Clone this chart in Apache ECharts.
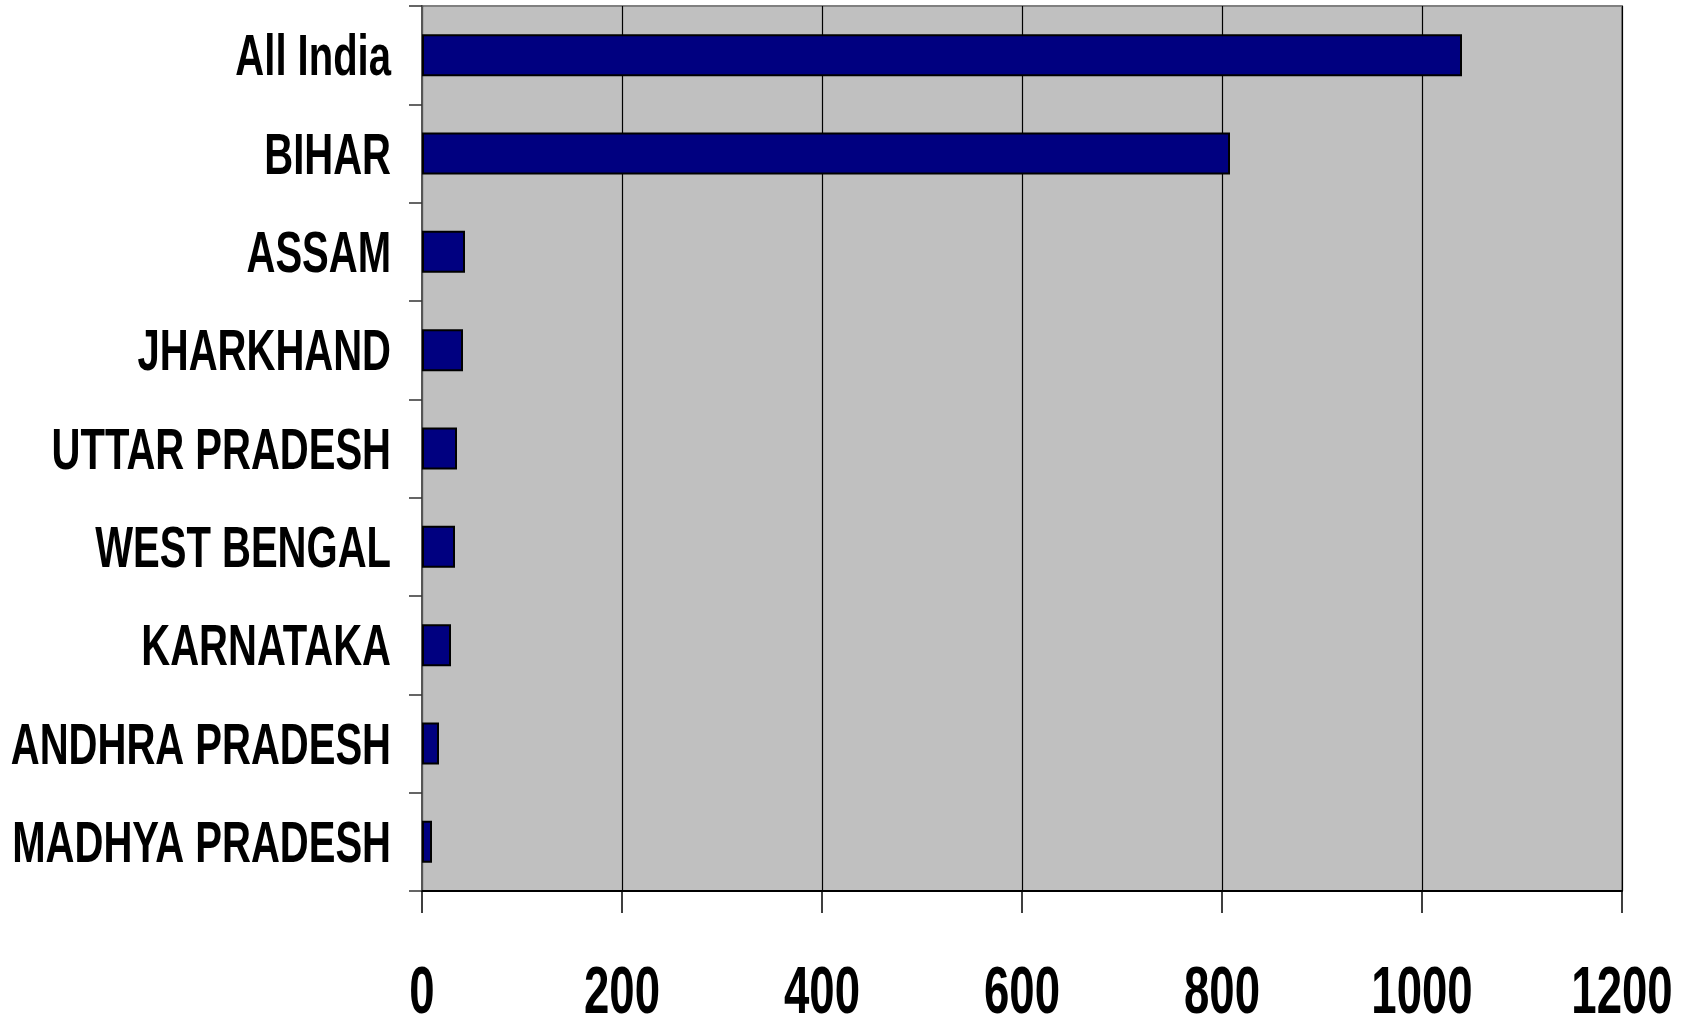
<!DOCTYPE html>
<html>
<head>
<meta charset="utf-8">
<script src="https://cdn.jsdelivr.net/npm/echarts@6/dist/echarts.min.js"></script>
<style>
html,body{margin:0;padding:0;background:#fff;}
#chart{width:1696px;height:1024px;}
</style>
</head>
<body>
<div id="chart"></div>
<script>
const categories = ["All India","BIHAR","ASSAM","JHARKHAND","UTTAR PRADESH","WEST BENGAL","KARNATAKA","ANDHRA PRADESH","MADHYA PRADESH"];
const values = [1040, 808, 43, 41, 35, 33, 29, 17, 10];
const xTicks = [0, 200, 400, 600, 800, 1000, 1200];

const FONT = '"Liberation Sans", Arial, sans-serif';
const NARROW = 0.69; // condensed look of the original labels
const chart = echarts.init(document.getElementById('chart'));
chart.setOption({
  animation: false,
  backgroundColor: '#ffffff',
  grid: {
    left: 422, right: 74, top: 6, bottom: 133,
    containLabel: false, outerBoundsMode: 'none',
    show: true, backgroundColor: '#C0C0C0', borderColor: '#808080', borderWidth: 2
  },
  xAxis: {
    type: 'value', min: xTicks[0], max: xTicks[xTicks.length-1], interval: 200,
    axisLine: {show: true, lineStyle: {color: '#000', width: 2}},
    axisTick: {show: true, inside: false, length: 22, lineStyle: {color: '#000', width: 1.5}},
    splitLine: {show: true, lineStyle: {color: '#000', width: 1.2}},
    axisLabel: {show: false}
  },
  yAxis: {
    type: 'category', inverse: true, data: categories,
    axisLine: {show: true, onZero: false, lineStyle: {color: '#555', width: 2}},
    axisTick: {show: true, length: 13, lineStyle: {color: '#333', width: 1.5}},
    axisLabel: {show: false}
  },
  series: [{
    type: 'bar', data: values, barWidth: 42,
    itemStyle: {color: '#000080', borderColor: '#000', borderWidth: 2}
  }]
});

// Axis labels as condensed real text, placed through the axes' own scales
const graphics = [];
const x0 = chart.convertToPixel({xAxisIndex: 0}, xTicks[0]);
categories.forEach(function (c) {
  const y = chart.convertToPixel({yAxisIndex: 0}, c);
  graphics.push({
    type: 'text', x: x0 - 31, y: y + 4, scaleX: NARROW, silent: true,
    style: {text: c, fill: '#000', font: 'bold 58px ' + FONT, textAlign: 'right', textVerticalAlign: 'middle'}
  });
});
const yBottom = chart.convertToPixel({yAxisIndex: 0}, categories[categories.length-1]) + 49;
xTicks.forEach(function (t) {
  const x = chart.convertToPixel({xAxisIndex: 0}, t);
  graphics.push({
    type: 'text', x: x, y: yBottom + 104, scaleX: NARROW, silent: true,
    style: {text: String(t), fill: '#000', font: 'bold 66px ' + FONT, textAlign: 'center', textVerticalAlign: 'middle'}
  });
});
chart.setOption({graphic: graphics});
</script>
</body>
</html>
